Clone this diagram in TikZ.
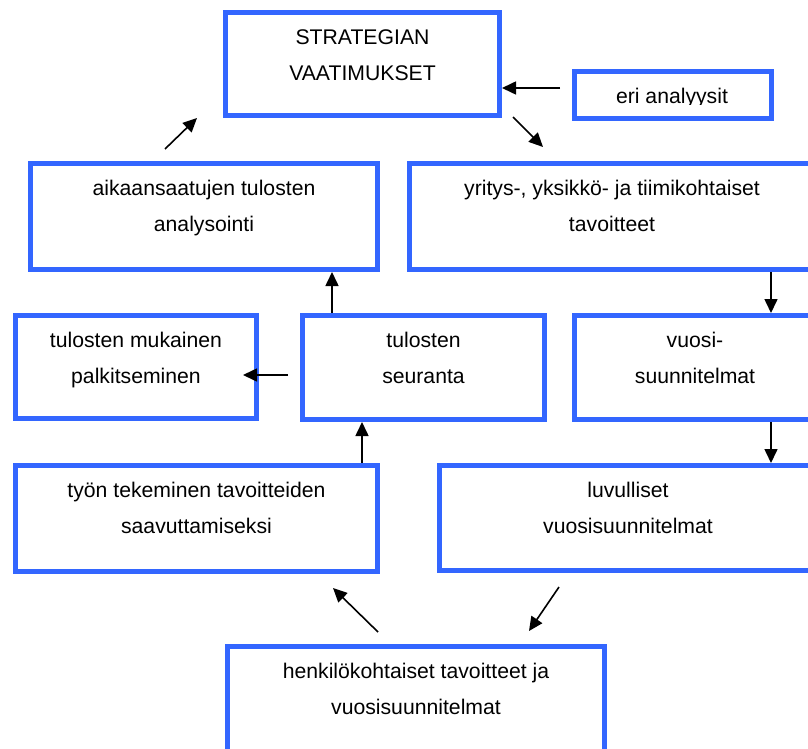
\documentclass[tikz,border=0pt]{standalone}
\usepackage{fontspec}
\setmainfont{Liberation Sans}
\usetikzlibrary{arrows.meta,calc}
\definecolor{boxblue}{HTML}{3366FF}
\tikzset{
  box/.style={draw=boxblue, line width=5pt, rectangle, inner sep=0pt,
    outer sep=auto, fill=white},
  lbl/.style={anchor=base, align=center, inner sep=0pt,
    font=\fontsize{21.2}{36}\selectfont},
  arr/.style={line width=1.6pt, -{Triangle[length=14pt,width=13pt]}},
}
\begin{document}
\begin{tikzpicture}[x=1pt,y=-1pt]
\useasboundingbox (0,0) rectangle (808,749);
\clip (0,0) rectangle (808,749);

% boxes (path size = outer size minus line width)
\node[box, minimum width=274pt, minimum height=103pt] (A) at (362.5,64) {};
\node[box, minimum width=197pt, minimum height=47pt]  (B) at (673,95) {};
\node[box, minimum width=405pt, minimum height=106pt] (C) at (612,216.5) {};
\node[box, minimum width=347pt, minimum height=106pt] (D) at (204,216.5) {};
\node[box, minimum width=241pt, minimum height=103pt] (E) at (136,367) {};
\node[box, minimum width=242pt, minimum height=104pt] (F) at (423.5,367.5) {};
\node[box, minimum width=241pt, minimum height=104pt] (G) at (695,367.5) {};
\node[box, minimum width=362pt, minimum height=106pt] (H) at (196.5,518.5) {};
\node[box, minimum width=377pt, minimum height=105pt] (I) at (628,518) {};
\node[box, minimum width=377pt, minimum height=105pt] (J) at (416,699) {};

% texts (base anchor sits on the last line's baseline)
\node[lbl] (tA) at ([shift={(0,70.5)}]A.north) {STRATEGIAN\\VAATIMUKSET};
\begin{scope}
  \clip (572,60) rectangle (774,105);
  \node[lbl] (tB) at ([shift={(-1,35)}]B.north) {eri analyysit};
\end{scope}
\node[lbl] (tC) at ([shift={(0,70.5)}]C.north) {yritys-, yksikkö- ja tiimikohtaiset\\tavoitteet};
\node[lbl] (tD) at ([shift={(0,70.5)}]D.north) {aikaansaatujen tulosten\\analysointi};
\node[lbl] (tE) at ([shift={(0,70.5)}]E.north) {tulosten mukainen\\palkitseminen};
\node[lbl] (tF) at ([shift={(0,70.5)}]F.north) {tulosten\\seuranta};
\node[lbl] (tG) at ([shift={(0,70.5)}]G.north) {vuosi-\\suunnitelmat};
\node[lbl] (tH) at ([shift={(0,70.5)}]H.north) {työn tekeminen tavoitteiden\\saavuttamiseksi};
\node[lbl] (tI) at ([shift={(0,70.5)}]I.north) {luvulliset\\vuosisuunnitelmat};
\node[lbl] (tJ) at ([shift={(0,70.5)}]J.north) {henkilökohtaiset tavoitteet ja\\vuosisuunnitelmat};

% columns of the vertical connectors
\coordinate (xr) at (771,0);
\coordinate (xm) at (332,0);
\coordinate (xs) at (362,0);

% connectors
\draw[arr] ([shift={(-12,-7)}]B.west) -- ([shift={(0,24)}]A.east);
\draw[arr] ([shift={(11,-1)}]A.south east) -- ([shift={(-69,-14)}]C.north);
\draw[arr] ([shift={(-39,-12)}]D.north) -- ([shift={(-26,0)}]A.south west);
\draw[arr] (C.south -| xr) -- (G.north -| xr);
\draw[arr] (G.south -| xr) -- (I.north -| xr);
\draw[arr] (F.north -| xm) -- (D.south -| xm);
\draw[arr] ([shift={(-12,7.5)}]F.west) -- ([shift={(-16,8)}]E.east);
\draw[arr] (H.north -| xs) -- (F.south -| xs);
\draw[arr] ([shift={(-38,-12)}]J.north) -- ([shift={(136.5,14)}]H.south);
\draw[arr] ([shift={(-69,14)}]I.south) -- ([shift={(113,-13)}]J.north);
\end{tikzpicture}
\end{document}
